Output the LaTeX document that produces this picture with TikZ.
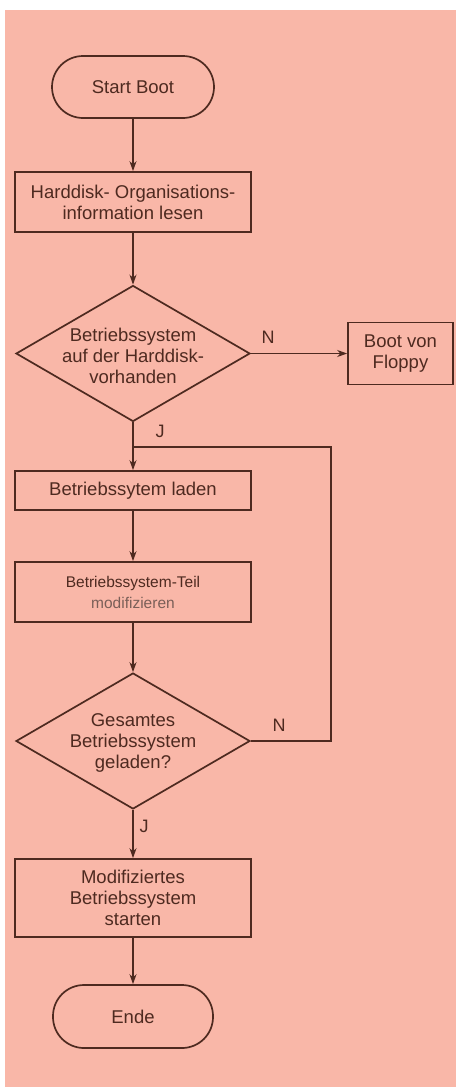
\documentclass[tikz,border=0pt]{standalone}
\usepackage{fontspec}
\setmainfont{Liberation Sans}
\usetikzlibrary{shapes.geometric,arrows.meta}
\definecolor{paper}{HTML}{F9B7A8}
\definecolor{ink}{HTML}{4E2A20}

\begin{document}
\begin{tikzpicture}[x=1pt,y=-1pt,
  base/.style={draw=ink, text=ink, line width=1.7pt, align=center, inner sep=0pt,
               font=\fontsize{18.5}{21}\selectfont},
  term/.style={base, rectangle, rounded corners=31pt, minimum width=162pt, minimum height=62pt},
  proc/.style={base, rectangle, minimum width=236pt},
  dec/.style={base, diamond, minimum width=234pt, minimum height=136pt},
  txt/.style={text=ink, align=center, inner sep=0pt, font=\fontsize{18.5}{21}\selectfont},
  flow/.style={draw=ink, line width=1.7pt, -{Stealth[length=10pt,width=7pt]}},
  wire/.style={draw=ink, line width=1.7pt},
  lbl/.style={text=ink, inner sep=0pt, font=\fontsize{18}{20}\selectfont}]

  % page and paper
  \fill[white] (0,0) rectangle (460,1087);
  \fill[paper] (5,10) rectangle (456,1087);
  \useasboundingbox (0,0) rectangle (460,1087);

  % flowchart elements
  \node[term] (start) at (133,87) {Start Boot};
  \node[proc, minimum height=60pt] (read) at (133,202)
       {Harddisk- Organisations-\\information lesen};
  \node[dec] (d1) at (133,353.5) {};
  \node[txt] (d1t) at (133,356) {Betriebssystem\\auf der Harddisk-\\vorhanden};
  \node[base, rectangle, minimum width=105pt, minimum height=62pt] (floppy) at (400.5,353.5)
       {Boot von\\Floppy};
  \node[proc, minimum height=39pt] (load) at (133,490.5) {Betriebssytem laden};
  \node[proc, minimum height=60pt, font=\fontsize{15.5}{21}\selectfont] (mod) at (133,592)
       {Betriebssystem-Teil\\{\color{ink!75}modifizieren}};
  \node[dec] (d2) at (133,741) {};
  \node[txt] (d2t) at (133,743) {Gesamtes\\Betriebssystem\\geladen?};
  \node[proc, minimum height=78pt] (run) at (133,898)
       {Modifiziertes\\Betriebssystem\\starten};
  \node[term, minimum width=160pt, minimum height=63pt] (ende) at (133,1016.5) {Ende};

  % branch labels
  \node[lbl] (n1) at (268,337) {N};
  \node[lbl] (j1) at (160,431) {J};
  \node[lbl] (n2) at (279,725) {N};
  \node[lbl] (j2) at (144,826) {J};

  % connectors
  \coordinate (merge) at (133,447);
  \coordinate (loopTop) at (331,447);
  \draw[flow] (start) -- (read);
  \draw[flow] (read) -- (d1);
  \draw[flow] (d1.east) -- (floppy.west);
  \draw[flow] (d1.south) -- (load.north);
  \draw[flow] (load) -- (mod);
  \draw[flow] (mod) -- (d2);
  \draw[wire] (d2.east) -| (loopTop) -- (merge);
  \draw[flow] (d2.south) -- (run.north);
  \draw[flow] (run) -- (ende);
\end{tikzpicture}
\end{document}
